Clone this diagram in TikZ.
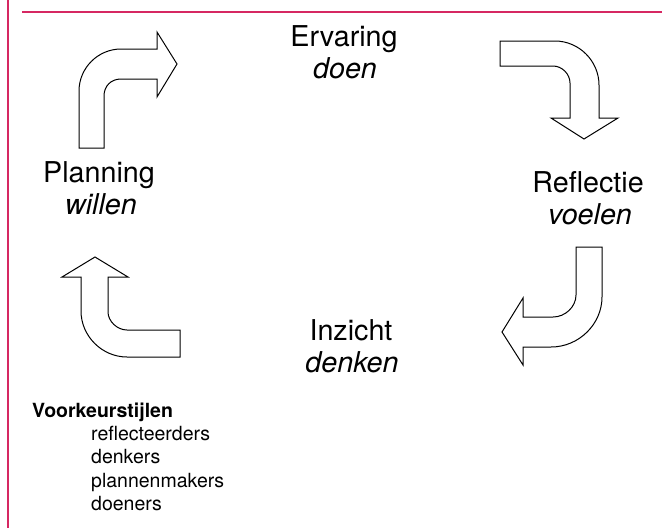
\documentclass[tikz,border=0pt]{standalone}
\usepackage{fontspec}
\setmainfont{TeX Gyre Heros}
\usetikzlibrary{positioning}
\definecolor{framecolor}{RGB}{214,40,98}

\begin{document}
\begin{tikzpicture}[
    x=1pt, y=-1pt,
    stage/.style={font=\fontsize{28.7}{32}\selectfont, inner sep=0pt, anchor=base},
    mood/.style={stage, font=\fontsize{28.7}{32}\selectfont\itshape},
    bent/.style={draw=black, line width=1pt, fill=white, line join=miter},
    legend/.style={font=\fontsize{19.5}{23}\selectfont, inner sep=0pt, anchor=base west},
    rule/.style={draw=framecolor, line width=2pt}
]
\useasboundingbox (0,0) rectangle (671,528);

% frame lines
\draw[rule] (8,0) -- (8,528);
\draw[rule] (22,12) -- (662,12);

% stages of the cycle
\node[stage] (ervaring) at (344,46) {Ervaring};
\node[mood] (doen) at (345,78) {doen};
\node[stage] (reflectie) at (588,192) {Reflectie};
\node[mood] (voelen) at (590,224) {voelen};
\node[stage] (inzicht) at (351,340) {Inzicht};
\node[mood] (denken) at (352,372) {denken};
\node[stage] (planning) at (99,182) {Planning};
\node[mood] (willen) at (101,214) {willen};

% bent arrows between the stages
\draw[bent] (79,148) -- (79,91) .. controls (79,68) and (98,49) .. (121,49)
    -- (157,49) -- (157,32) -- (177,64) -- (157,97) -- (157,79) -- (121,79)
    .. controls (111,79) and (104,86) .. (104,96) -- (104,148) -- cycle;
\draw[bent] (500,41) -- (555,41) .. controls (579,41) and (599,61) .. (599,85)
    -- (599,118) -- (618,118) -- (584,139) -- (551,118) -- (570,118) -- (570,83)
    .. controls (570,74) and (562,66) .. (553,66) -- (500,66) -- cycle;
\draw[bent] (576,247) -- (602,247) -- (602,297) .. controls (602,324) and (579,347) .. (551,347)
    -- (523,347) -- (523,365) -- (502,332) -- (523,298) -- (523,317) -- (553,317)
    .. controls (565,317) and (576,307) .. (576,295) -- cycle;
\draw[bent] (180,330) -- (127,330) .. controls (117,330) and (108,321) .. (108,312)
    -- (108,277) -- (128,277) -- (95,257) -- (62,277) -- (81,277) -- (81,311)
    .. controls (81,336) and (102,357) .. (127,357) -- (180,357) -- cycle;

% preferred styles
\node[legend, font=\fontsize{19.5}{23}\selectfont\bfseries] (voorkeur) at (32,417) {Voorkeurstijlen};
\node[legend] (reflecteerders) at (91,440) {reflecteerders};
\node[legend] (denkers) at (91,463) {denkers};
\node[legend] (plannenmakers) at (91,487) {plannenmakers};
\node[legend] (doeners) at (91,510) {doeners};
\end{tikzpicture}
\end{document}
